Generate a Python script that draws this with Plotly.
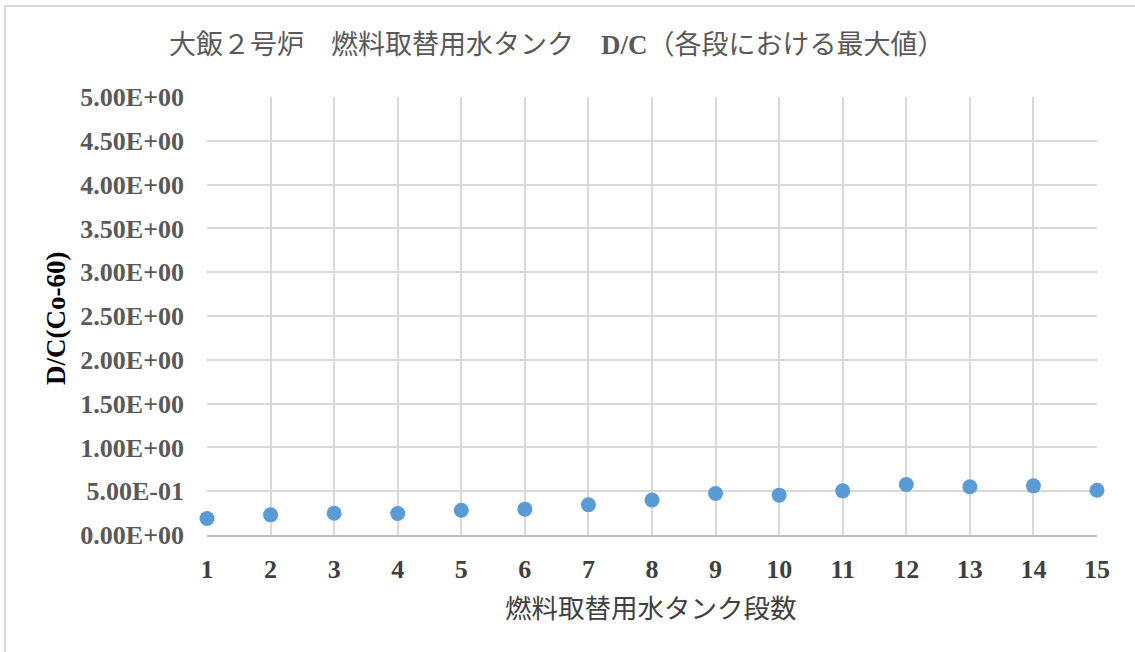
import plotly.graph_objects as go

# Data
stages = list(range(1, 16))
dc_values = [0.188, 0.23, 0.249, 0.245, 0.283, 0.295, 0.345, 0.40,
             0.474, 0.455, 0.504, 0.576, 0.55, 0.561, 0.511]
y_tick_vals = [0, 0.5, 1.0, 1.5, 2.0, 2.5, 3.0, 3.5, 4.0, 4.5, 5.0]
y_tick_labels = ["0.00E+00", "5.00E-01", "1.00E+00", "1.50E+00", "2.00E+00",
                 "2.50E+00", "3.00E+00", "3.50E+00", "4.00E+00", "4.50E+00", "5.00E+00"]
title_text = "大飯２号炉　燃料取替用水タンク　<b>D/C</b>（各段における最大値）"
x_title = "燃料取替用水タンク段数"
y_title = "D/C(Co-60)"

W, H = 1135, 652
L, R, T, B = 207, 38, 97, 117
pw, ph = W - L - R, H - T - B

def px_x(p):
    return (p - L) / pw

def px_y(p):
    return (H - B - p) / ph

serif = "Liberation Serif, Times New Roman, serif"
cjk = "Noto Sans CJK JP, sans-serif"

fig = go.Figure()
fig.add_trace(go.Scatter(
    x=stages, y=dc_values, mode="markers",
    marker=dict(size=15, color="#5B9BD5", line=dict(width=0)),
    cliponaxis=False, showlegend=False,
))

fig.update_layout(
    width=W, height=H,
    margin=dict(l=L, r=R, t=T, b=B),
    paper_bgcolor="white", plot_bgcolor="white",
    xaxis=dict(
        range=[1, 15], tickvals=stages, ticktext=[str(s) for s in stages],
        showgrid=True, gridcolor="#d9d9d9", gridwidth=1.5,
        showline=True, linecolor="#bfbfbf", linewidth=2,
        zeroline=False, ticks="", ticklabelstandoff=10,
        tickfont=dict(family=serif, size=26, color="#404040", weight="bold"),
    ),
    yaxis=dict(
        range=[0, 5], tickvals=y_tick_vals, ticktext=y_tick_labels,
        showgrid=True, gridcolor="#d9d9d9", gridwidth=1.5,
        showline=False, zeroline=False, ticks="", ticklabelstandoff=22,
        tickfont=dict(family=serif, size=26, color="#595959", weight="bold"),
    ),
    shapes=[dict(
        type="rect", xref="paper", yref="paper",
        x0=px_x(5), x1=px_x(1200), y0=px_y(700), y1=px_y(6),
        line=dict(color="#d9d9d9", width=2), fillcolor="rgba(0,0,0,0)",
        layer="below",
    )],
    annotations=[
        dict(text=title_text, xref="paper", yref="paper",
             x=px_x(557), y=px_y(45), xanchor="center", yanchor="middle",
             showarrow=False,
             font=dict(family="Liberation Serif, " + cjk, size=27, color="#595959")),
        dict(text=x_title, xref="paper", yref="paper",
             x=px_x(651), y=px_y(606), xanchor="center", yanchor="middle",
             showarrow=False, font=dict(family=cjk, size=26.5, color="#404040")),
        dict(text=y_title, xref="paper", yref="paper",
             x=px_x(56), y=px_y(319), xanchor="center", yanchor="middle",
             textangle=-90, showarrow=False,
             font=dict(family=serif, size=27, color="#000000", weight="bold")),
    ],
)

fig.write_html("out.html")
